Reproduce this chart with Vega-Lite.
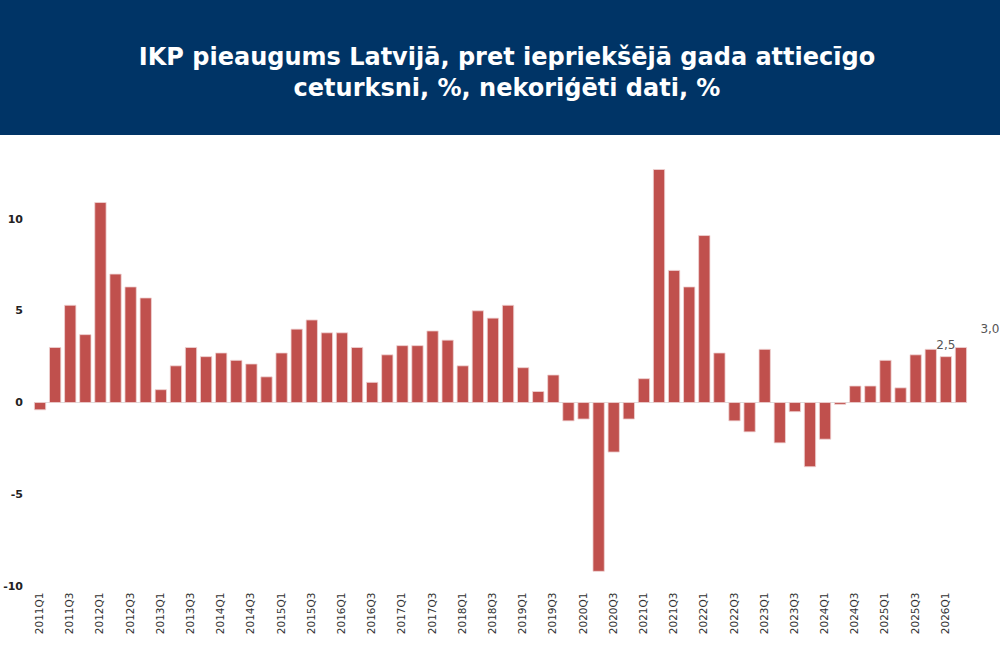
{
  "$schema": "https://vega.github.io/schema/vega-lite/v6.json",
  "background": "white",
  "padding": 0,
  "spacing": 29,
  "config": {
    "font": "DejaVu Sans",
    "view": {"stroke": null}
  },
  "datasets": {
    "gdp": [
      {"q": "2011Q1", "v": -0.4}, {"q": "2011Q2", "v": 3.0}, {"q": "2011Q3", "v": 5.3}, {"q": "2011Q4", "v": 3.7},
      {"q": "2012Q1", "v": 10.9}, {"q": "2012Q2", "v": 7.0}, {"q": "2012Q3", "v": 6.3}, {"q": "2012Q4", "v": 5.7},
      {"q": "2013Q1", "v": 0.7}, {"q": "2013Q2", "v": 2.0}, {"q": "2013Q3", "v": 3.0}, {"q": "2013Q4", "v": 2.5},
      {"q": "2014Q1", "v": 2.7}, {"q": "2014Q2", "v": 2.3}, {"q": "2014Q3", "v": 2.1}, {"q": "2014Q4", "v": 1.4},
      {"q": "2015Q1", "v": 2.7}, {"q": "2015Q2", "v": 4.0}, {"q": "2015Q3", "v": 4.5}, {"q": "2015Q4", "v": 3.8},
      {"q": "2016Q1", "v": 3.8}, {"q": "2016Q2", "v": 3.0}, {"q": "2016Q3", "v": 1.1}, {"q": "2016Q4", "v": 2.6},
      {"q": "2017Q1", "v": 3.1}, {"q": "2017Q2", "v": 3.1}, {"q": "2017Q3", "v": 3.9}, {"q": "2017Q4", "v": 3.4},
      {"q": "2018Q1", "v": 2.0}, {"q": "2018Q2", "v": 5.0}, {"q": "2018Q3", "v": 4.6}, {"q": "2018Q4", "v": 5.3},
      {"q": "2019Q1", "v": 1.9}, {"q": "2019Q2", "v": 0.6}, {"q": "2019Q3", "v": 1.5}, {"q": "2019Q4", "v": -1.0},
      {"q": "2020Q1", "v": -0.9}, {"q": "2020Q2", "v": -9.2}, {"q": "2020Q3", "v": -2.7}, {"q": "2020Q4", "v": -0.9},
      {"q": "2021Q1", "v": 1.3}, {"q": "2021Q2", "v": 12.7}, {"q": "2021Q3", "v": 7.2}, {"q": "2021Q4", "v": 6.3},
      {"q": "2022Q1", "v": 9.1}, {"q": "2022Q2", "v": 2.7}, {"q": "2022Q3", "v": -1.0}, {"q": "2022Q4", "v": -1.6},
      {"q": "2023Q1", "v": 2.9}, {"q": "2023Q2", "v": -2.2}, {"q": "2023Q3", "v": -0.5}, {"q": "2023Q4", "v": -3.5},
      {"q": "2024Q1", "v": -2.0}, {"q": "2024Q2", "v": -0.1}, {"q": "2024Q3", "v": 0.9}, {"q": "2024Q4", "v": 0.9},
      {"q": "2025Q1", "v": 2.3}, {"q": "2025Q2", "v": 0.8}, {"q": "2025Q3", "v": 2.6}, {"q": "2025Q4", "v": 2.9},
      {"q": "2026Q1", "v": 2.5, "label": "2,5"}, {"q": "2026Q2", "v": 3.0, "label": "3,0"}
    ]
  },
  "vconcat": [
    {
      "width": 1000,
      "height": 135,
      "view": {"fill": "#003466", "stroke": null},
      "data": {"values": [
        {"line": 1, "text": "IKP pieaugums Latvijā, pret iepriekšējā gada attiecīgo"},
        {"line": 2, "text": "ceturksni, %, nekoriģēti dati, %"}
      ]},
      "mark": {"type": "text", "color": "white", "fontSize": 24, "fontWeight": "bold", "baseline": "middle", "dx": 7, "dy": 2},
      "encoding": {
        "y": {"field": "line", "type": "quantitative", "axis": null,
              "scale": {"domain": [-0.81, 3.55], "nice": false, "zero": false, "reverse": true}},
        "text": {"field": "text"}
      }
    },
    {
      "width": 1000,
      "height": 422,
      "data": {"name": "gdp"},
      "encoding": {
        "x": {
          "field": "q", "type": "nominal", "sort": "ascending", "title": null,
          "scale": {"range": [32.5, 968.5], "paddingInner": 0.25, "paddingOuter": 0.125},
          "axis": {
            "labelAngle": -90, "labelFontSize": 10.5, "labelColor": "#333",
            "labelPadding": 6, "ticks": false, "domain": false, "labelOverlap": false,
            "labelExpr": "indexof(datum.label, 'Q1') > 0 || indexof(datum.label, 'Q3') > 0 ? datum.label : ''"
          }
        }
      },
      "layer": [
        {
          "mark": {"type": "rule", "color": "#dddddd", "strokeWidth": 1},
          "encoding": {
            "x": {"datum": "2011Q1", "bandPosition": 0},
            "x2": {"datum": "2026Q2", "bandPosition": 1},
            "y": {"datum": 0}
          }
        },
        {
          "mark": {"type": "bar", "color": "#c0504d", "stroke": "#f0d4d4", "strokeWidth": 0.8},
          "encoding": {
            "y": {
              "field": "v", "type": "quantitative", "title": null,
              "scale": {"domain": [-10, 13], "nice": false, "zero": true},
              "axis": {
                "values": [-10, -5, 0, 5, 10], "offset": -32.5, "labelPadding": 10,
                "labelFontSize": 11, "labelFontWeight": "bold", "labelColor": "#222",
                "labelExpr": "toString(datum.value)",
                "ticks": false, "domain": false, "grid": false
              }
            }
          }
        },
        {
          "transform": [{"filter": "datum.q == '2026Q1'"}],
          "mark": {"type": "text", "color": "#555", "fontSize": 12, "baseline": "bottom", "dy": -5},
          "encoding": {
            "y": {"field": "v", "type": "quantitative"},
            "text": {"field": "label"}
          }
        },
        {
          "transform": [{"filter": "datum.q == '2026Q2'"}],
          "mark": {"type": "text", "color": "#555", "fontSize": 12, "baseline": "bottom", "dy": -11, "dx": 29},
          "encoding": {
            "y": {"field": "v", "type": "quantitative"},
            "text": {"field": "label"}
          }
        }
      ]
    }
  ]
}
